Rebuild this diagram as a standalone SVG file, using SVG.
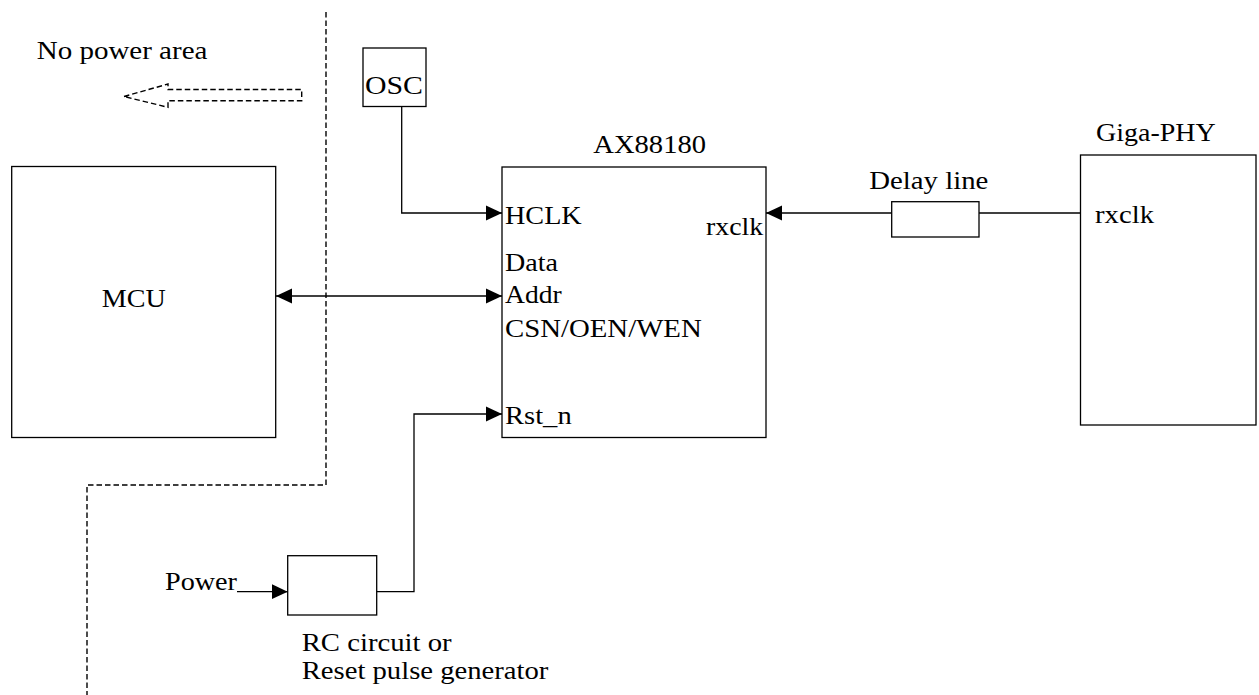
<svg xmlns="http://www.w3.org/2000/svg" width="1259" height="695" viewBox="0 0 1259 695">
<style>
  .box { fill: #ffffff; stroke: #000000; stroke-width: 1.3; }
  .wire { fill: none; stroke: #000000; stroke-width: 1.3; }
  .dash { fill: none; stroke: #000000; stroke-width: 1.4; stroke-dasharray: 5.5 3; }
  .t { font-family: "Liberation Serif", "Times New Roman", serif; font-size: 26px; fill: #000000; }
</style>
<defs>
  <marker id="arr" markerUnits="userSpaceOnUse" markerWidth="16" markerHeight="16" viewBox="0 0 15 14" refX="15" refY="7" orient="auto-start-reverse">
    <path d="M0,0 L15,7 L0,14 Z" fill="#000000"/>
  </marker>
</defs>
<rect width="1259" height="695" fill="#ffffff"/>

<g id="power-boundary">
  <path class="dash" d="M326,12 V485 H87 V695"/>
  <polygon class="dash" points="124,96.5 168,84 168,89.5 301.7,89.5 301.7,100.7 168,100.7 168,107.3"/>
  <text class="t" x="36.7" y="59.3" textLength="170.7" lengthAdjust="spacingAndGlyphs">No power area</text>
</g>

<g id="connectors">
  <path class="wire" d="M401.7,106.5 V213 H502" marker-end="url(#arr)"/>
  <path class="wire" d="M276,296 H502" marker-start="url(#arr)" marker-end="url(#arr)"/>
  <path class="wire" d="M1080.5,213 H979"/>
  <path class="wire" d="M891.7,213 H766" marker-end="url(#arr)"/>
  <path class="wire" d="M376.7,591.7 H414 V414 H502" marker-end="url(#arr)"/>
  <path class="wire" d="M237,591.7 H287.7" marker-end="url(#arr)"/>
</g>

<g id="mcu">
  <rect class="box" x="11.7" y="166.5" width="264" height="271"/>
  <text class="t" x="101.7" y="306.7" textLength="64" lengthAdjust="spacingAndGlyphs">MCU</text>
</g>

<g id="osc">
  <rect class="box" x="363" y="48" width="63" height="58.5"/>
  <text class="t" x="365" y="94.3" textLength="58" lengthAdjust="spacingAndGlyphs">OSC</text>
</g>

<g id="ax88180">
  <rect class="box" x="502" y="167" width="264" height="270.5"/>
  <text class="t" x="593.3" y="153.3" textLength="112.7" lengthAdjust="spacingAndGlyphs">AX88180</text>
  <text class="t" x="505" y="224" textLength="76.7" lengthAdjust="spacingAndGlyphs">HCLK</text>
  <text class="t" x="706" y="235" textLength="57.3" lengthAdjust="spacingAndGlyphs">rxclk</text>
  <text class="t" x="505" y="270.7" textLength="53" lengthAdjust="spacingAndGlyphs">Data</text>
  <text class="t" x="505" y="303.3" textLength="56.7" lengthAdjust="spacingAndGlyphs">Addr</text>
  <text class="t" x="505" y="336.7" textLength="196.7" lengthAdjust="spacingAndGlyphs">CSN/OEN/WEN</text>
  <text class="t" x="505" y="424.3" textLength="66.7" lengthAdjust="spacingAndGlyphs">Rst_n</text>
</g>

<g id="delay-line">
  <rect class="box" x="891.7" y="201.7" width="87.3" height="35.3"/>
  <text class="t" x="869.3" y="189" textLength="119" lengthAdjust="spacingAndGlyphs">Delay line</text>
</g>

<g id="giga-phy">
  <rect class="box" x="1080.5" y="155" width="175.5" height="270"/>
  <text class="t" x="1096" y="141" textLength="119.7" lengthAdjust="spacingAndGlyphs">Giga-PHY</text>
  <text class="t" x="1095" y="223" textLength="59" lengthAdjust="spacingAndGlyphs">rxclk</text>
</g>

<g id="rc-circuit">
  <rect class="box" x="287.7" y="555.7" width="89" height="59.3"/>
  <text class="t" x="165" y="590" textLength="72" lengthAdjust="spacingAndGlyphs">Power</text>
  <text class="t" x="301.7" y="651" textLength="150" lengthAdjust="spacingAndGlyphs">RC circuit or</text>
  <text class="t" x="301.7" y="679" textLength="246.7" lengthAdjust="spacingAndGlyphs">Reset pulse generator</text>
</g>
</svg>
